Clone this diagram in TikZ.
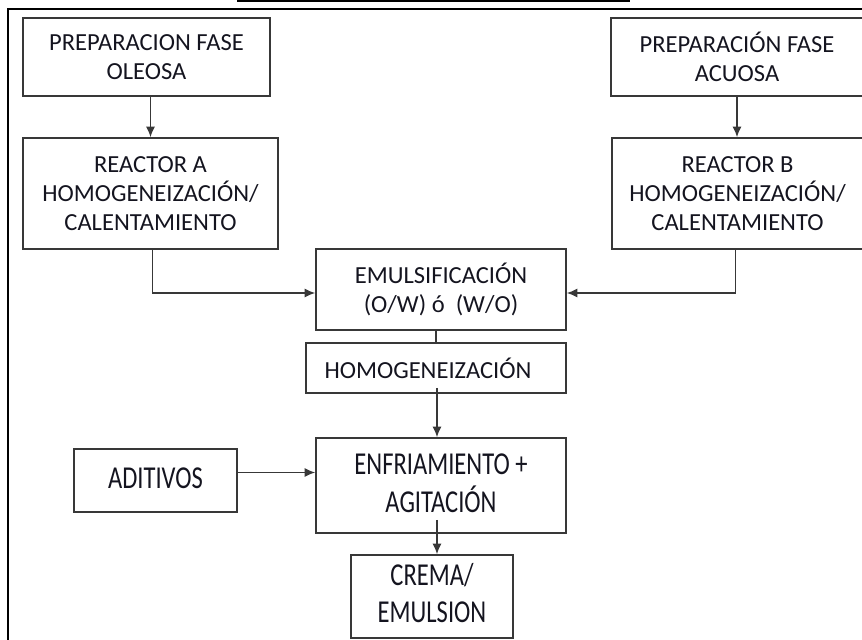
\documentclass[tikz,border=0pt]{standalone}
\usepackage{fontspec}
\usepackage{graphicx}
\setmainfont{Carlito}
\usetikzlibrary{arrows.meta,calc}

\definecolor{borde}{rgb}{0.22,0.22,0.22}
\definecolor{letra}{rgb}{0.08,0.08,0.12}

\newcommand{\alto}[1]{\scalebox{1}[1.3]{\begin{tabular}{@{}c@{}}#1\end{tabular}}}

\begin{document}
\begin{tikzpicture}[x=0.75pt, y=-0.75pt,
    caja/.style={draw=borde, line width=1.2pt, text=letra, align=center,
        inner sep=0pt, font=\fontsize{18.4}{21.8}\selectfont},
    flecha/.style={draw=borde, line width=1.3pt, -{Latex[length=8pt,width=7pt]}},
    linea/.style={draw=borde, line width=1.3pt}]
    \useasboundingbox (0,0) rectangle (862,639);

    % marco y subrayado del titulo
    \draw[black, line width=1.6pt] (8,645) -- (8,9) -- (870,9);
    \draw[black, line width=1.2pt] (237,1) -- (630,1);

    % fases
    \node[caja, minimum width=247*0.75pt, minimum height=78*0.75pt] (oleosa) at (146.5,57) {PREPARACION FASE\\OLEOSA};
    \node[caja, minimum width=252*0.75pt, minimum height=78*0.75pt] (acuosa) at (737,57) {PREPARACIÓN FASE\\ACUOSA};

    % reactores
    \node[caja, minimum width=255*0.75pt, minimum height=111*0.75pt] (reactA) at (150.5,193.5) {REACTOR A\\HOMOGENEIZACIÓN/\\CALENTAMIENTO};
    \node[caja, minimum width=251*0.75pt, minimum height=111*0.75pt] (reactB) at (737.5,193.5) {REACTOR B\\HOMOGENEIZACIÓN/\\CALENTAMIENTO};

    % proceso central
    \node[caja, minimum width=250*0.75pt, minimum height=81*0.75pt] (emul) at (441,289.5) {EMULSIFICACIÓN\\(O/W) ó~ (W/O)};
    \node[caja, minimum width=260*0.75pt, minimum height=50*0.75pt] (homog) at (436,368) {\hspace*{-12pt}HOMOGENEIZACIÓN};
    \node[caja, minimum width=250*0.75pt, minimum height=95*0.75pt] (enfr) at (441,485.5) {\alto{ENFRIAMIENTO +\\AGITACIÓN}};
    \node[caja, minimum width=163*0.75pt, minimum height=63*0.75pt] (adit) at (155.5,480.5) {\alto{ADITIVOS}};
    \node[caja, minimum width=162*0.75pt, minimum height=83*0.75pt] (crema) at (432,596.5) {\alto{CREMA/\\EMULSION}};

    % conexiones
    \draw[flecha] (oleosa.south -| reactA.north) -- (reactA.north);
    \draw[flecha] (acuosa.south) -- (acuosa.south |- reactB.north);
    \draw[flecha] ($(reactA.south)+(2,0)$) |- ($(emul.west)+(0,3.5)$);
    \draw[flecha] ($(reactB.south)+(-2,0)$) |- ($(emul.east)+(0,3.5)$);
    \draw[linea] (homog.north |- emul.south) -- (homog.north);
    \draw[flecha] ($(homog.south)+(1,-6)$) -- ($(homog.south |- enfr.north)+(1,0)$);
    \coordinate (salida) at ($(enfr.south)+(-4,-14)$);
    \draw[flecha] (salida) -- (salida |- crema.north);
    \draw[flecha] ($(adit.east)+(0,-8)$) -- ($(adit.east -| enfr.west)+(0,-8)$);
\end{tikzpicture}
\end{document}
